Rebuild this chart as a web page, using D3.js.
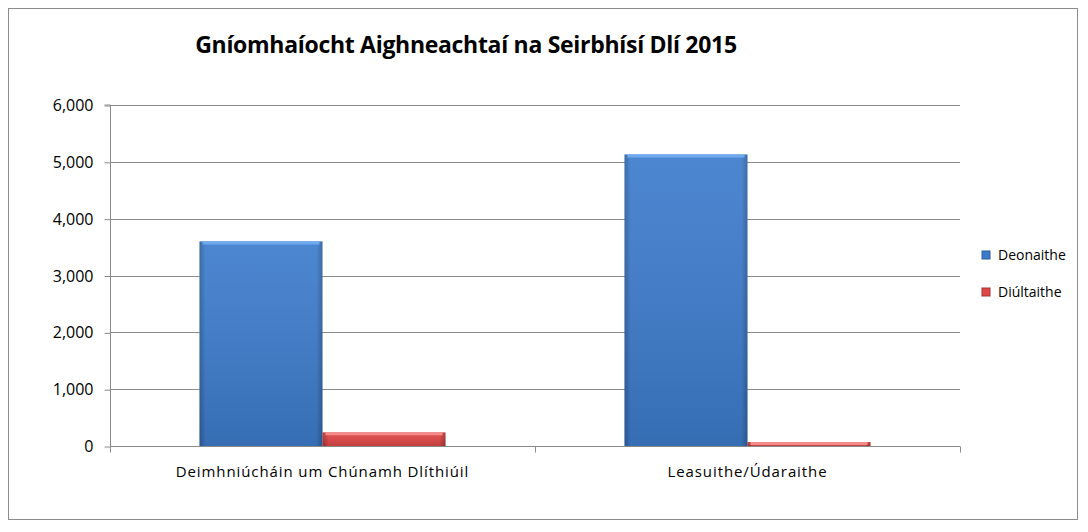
<!DOCTYPE html>
<html>
<head>
<meta charset="utf-8">
<script src="https://cdn.jsdelivr.net/npm/d3@7"></script>
<style>
  body { margin: 0; background: #fff; }
  text { font-family: "Open Sans", "Liberation Sans", sans-serif; }
</style>
</head>
<body>
<div id="chart"></div>
<script>
// data
var categories = ["Deimhniúcháin um Chúnamh Dlíthiúil", "Leasuithe/Údaraithe"];
var seriesNames = ["Deonaithe", "Diúltaithe"];
var granted = [3600, 5130];
var refused = [240, 70];
var yTicks = [0, 1000, 2000, 3000, 4000, 5000, 6000];

var width = 1088, height = 532;
var plot = { left: 110, right: 960, top: 105, bottom: 446 };

var svg = d3.select("#chart").append("svg")
  .attr("width", width)
  .attr("height", height);

// gradients for the bevelled bars
var defs = svg.append("defs");
function bevel(id, mid, dark) {
  var g = defs.append("linearGradient").attr("id", id)
    .attr("x1", 0).attr("y1", 0).attr("x2", 1).attr("y2", 0);
  g.append("stop").attr("offset", "0%").attr("stop-color", dark);
  g.append("stop").attr("offset", "5%").attr("stop-color", mid);
  g.append("stop").attr("offset", "95%").attr("stop-color", mid);
  g.append("stop").attr("offset", "100%").attr("stop-color", dark);
}
bevel("gBlue", "#3d7ccc", "#2d5f9e");
bevel("gRed", "#df4646", "#a83030");
// vertical shade on top of the bevel
var shade = defs.append("linearGradient").attr("id", "shade")
  .attr("x1", 0).attr("y1", 0).attr("x2", 0).attr("y2", 1);
shade.append("stop").attr("offset", "0%").attr("stop-color", "#fff").attr("stop-opacity", 0.08);
shade.append("stop").attr("offset", "100%").attr("stop-color", "#000").attr("stop-opacity", 0.12);

// outer frame
svg.append("rect")
  .attr("x", 8.5).attr("y", 8.5)
  .attr("width", 1069).attr("height", 511)
  .attr("fill", "#fff")
  .attr("stroke", "#8c8c8c");

// title
svg.append("text")
  .attr("x", 466).attr("y", 53)
  .attr("text-anchor", "middle")
  .style("font-size", "23px")
  .style("font-weight", "bold")
  .style("letter-spacing", "-0.3px")
  .text("Gníomhaíocht Aighneachtaí na Seirbhísí Dlí 2015");

var y = d3.scaleLinear().domain([0, 6000]).range([plot.bottom, plot.top]);
var x0 = d3.scaleBand().domain(categories).range([plot.left, plot.right]);
var groupFrac = 0.579;
var x1 = d3.scaleBand().domain(seriesNames)
  .range([x0.bandwidth() * (1 - groupFrac) / 2, x0.bandwidth() * (1 + groupFrac) / 2]);

// gridlines
svg.append("g").selectAll("line")
  .data(yTicks.filter(function(d) { return d > 0; }))
  .enter().append("line")
  .attr("x1", plot.left).attr("x2", plot.right)
  .attr("y1", function(d) { return Math.round(y(d)) + 0.5; })
  .attr("y2", function(d) { return Math.round(y(d)) + 0.5; })
  .attr("stroke", "#8a8a8a");

// y axis
var yAxis = d3.axisLeft(y).tickValues(yTicks)
  .tickFormat(d3.format(",")).tickSize(6).tickPadding(11);
var gy = svg.append("g").attr("transform", "translate(" + (plot.left + 0.5) + ",0.5)").call(yAxis);
gy.selectAll("line, path").attr("stroke", "#8a8a8a");
gy.select(".domain").attr("d", "M-6," + (plot.top - 0.5) + "H0V" + (plot.bottom - 0.5));
gy.selectAll("text").style("font-size", "16px").style("fill", "#000")
  .style("font-family", "'Open Sans', sans-serif");

// bars
var rows = categories.map(function(c, i) {
  return [{ cat: c, s: seriesNames[0], v: granted[i] }, { cat: c, s: seriesNames[1], v: refused[i] }];
});
var groups = svg.append("g").selectAll("g")
  .data(rows).enter().append("g")
  .attr("transform", function(d) { return "translate(" + x0(d[0].cat) + ",0)"; });
groups.selectAll("rect.bar")
  .data(function(d) { return d; })
  .enter().append("rect")
  .attr("class", "bar")
  .attr("x", function(d) { return x1(d.s); })
  .attr("width", x1.bandwidth())
  .attr("y", function(d) { return y(d.v); })
  .attr("height", function(d) { return y(0) - y(d.v); })
  .attr("fill", function(d) { return d.s === seriesNames[0] ? "url(#gBlue)" : "url(#gRed)"; });
groups.selectAll("rect.shade")
  .data(function(d) { return d; })
  .enter().append("rect")
  .attr("class", "shade")
  .attr("x", function(d) { return x1(d.s); })
  .attr("width", x1.bandwidth())
  .attr("y", function(d) { return y(d.v); })
  .attr("height", function(d) { return y(0) - y(d.v); })
  .attr("fill", "url(#shade)");
// light top edge
groups.selectAll("line.top")
  .data(function(d) { return d; })
  .enter().append("line")
  .attr("class", "top")
  .attr("x1", function(d) { return x1(d.s) + 3; })
  .attr("x2", function(d) { return x1(d.s) + x1.bandwidth() - 3; })
  .attr("y1", function(d) { return y(d.v) + 1.5; })
  .attr("y2", function(d) { return y(d.v) + 1.5; })
  .attr("stroke", function(d) { return d.s === seriesNames[0] ? "#6eaaf0" : "#f58a8a"; })
  .attr("stroke-width", 3);

// x axis
var xAxis = d3.axisBottom(x0).tickSize(0).tickPadding(20);
var gx = svg.append("g").attr("transform", "translate(0," + (plot.bottom + 0.5) + ")").call(xAxis);
gx.select(".domain").attr("stroke", "#8a8a8a").attr("d", "M" + plot.left + ",0H" + plot.right);
gx.selectAll("text").style("font-size", "15px").style("fill", "#000")
  .style("letter-spacing", "0.9px")
  .style("font-family", "'Open Sans', sans-serif");
gx.append("g").selectAll("line")
  .data([plot.left, x0(categories[1]), plot.right])
  .enter().append("line")
  .attr("x1", function(d) { return d + 0.5; }).attr("x2", function(d) { return d + 0.5; })
  .attr("y1", 0).attr("y2", 6)
  .attr("stroke", "#8a8a8a");

// legend
var legend = svg.append("g").attr("transform", "translate(982,250)");
var li = legend.selectAll("g").data(seriesNames).enter().append("g")
  .attr("transform", function(d, i) { return "translate(0," + i * 37 + ")"; });
li.append("rect")
  .attr("width", 8).attr("height", 8).attr("y", 1)
  .attr("fill", function(d, i) { return i === 0 ? "#3d7ccc" : "#df4646"; })
  .attr("stroke", function(d, i) { return i === 0 ? "#2d5f9e" : "#a83030"; });
li.append("text")
  .attr("x", 16).attr("y", 10)
  .style("font-size", "14px")
  .text(function(d) { return d; });
</script>
</body>
</html>
